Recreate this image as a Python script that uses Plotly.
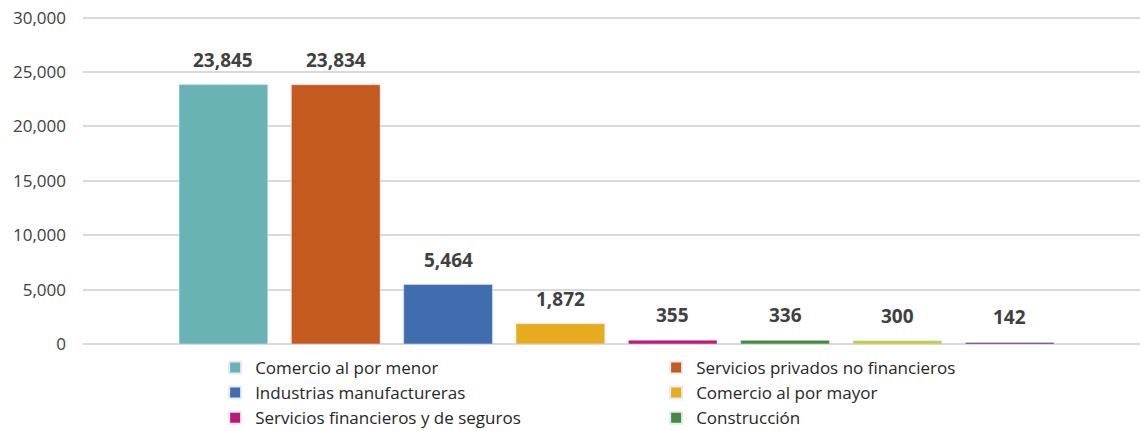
import plotly.graph_objects as go

categories = [
    "Comercio al por menor",
    "Servicios privados no financieros",
    "Industrias manufactureras",
    "Comercio al por mayor",
    "Servicios financieros y de seguros",
    "Construcción",
    "Otros sectores A",
    "Otros sectores B",
]
values = [23845, 23834, 5464, 1872, 355, 336, 300, 142]
colors = ["#6AB3B5", "#C55A1F", "#3F6DAF", "#E6AC1D", "#C0187A", "#468A3F", "#C3C93F", "#5E2F8A"]
in_legend = [True, True, True, True, True, True, False, False]
y_ticks = [0, 5000, 10000, 15000, 20000, 25000, 30000]

FONT = "Open Sans, Noto Sans, sans-serif"

fig = go.Figure()
for i, (c, v, col, leg) in enumerate(zip(categories, values, colors, in_legend)):
    fig.add_trace(go.Bar(
        x=[i], y=[v], name=c, marker_color=col, width=0.79,
        showlegend=leg, hoverinfo="name+y",
    ))
    fig.add_annotation(
        x=i, y=v, text=f"<b>{v:,}</b>", showarrow=False,
        yanchor="bottom", yshift=10,
        font=dict(family=FONT, size=19, color="#404040"),
    )

fig.update_layout(
    width=1143, height=431,
    margin=dict(l=83, r=3, t=16, b=87, autoexpand=False),
    paper_bgcolor="white", plot_bgcolor="white",
    barmode="overlay",
    font=dict(family=FONT, color="#404040"),
    xaxis=dict(
        range=[-1.25, 8.16], showticklabels=False, showgrid=False,
        zeroline=False, fixedrange=True, automargin=False,
    ),
    yaxis=dict(
        range=[0, 30150], tickvals=y_ticks, tickformat=",",
        showgrid=True, gridcolor="#D9D9D9", gridwidth=1.5,
        zeroline=True, zerolinecolor="#D9D9D9", zerolinewidth=1.5,
        tickfont=dict(family=FONT, size=17, color="#404040"),
        ticklabelstandoff=16, automargin=False,
    ),
    legend=dict(
        orientation="h", x=0.125, xanchor="left", y=-0.018, yanchor="top",
        entrywidth=396, entrywidthmode="pixels",
        font=dict(family=FONT, size=17, color="#262626"),
        itemsizing="constant", tracegroupgap=0,
        traceorder="normal",
    ),
)

fig.write_html(
    "out.html",
    config={"displayModeBar": False},
    post_script="document.body.style.margin='0';",
)
